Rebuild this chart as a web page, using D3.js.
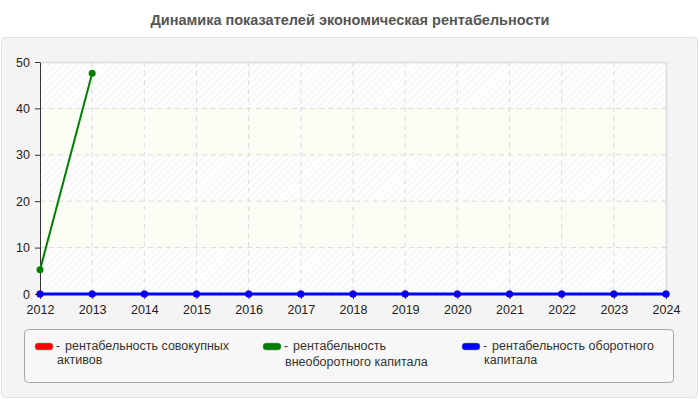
<!DOCTYPE html>
<html>
<head>
<meta charset="utf-8">
<script src="https://cdn.jsdelivr.net/npm/d3@7"></script>
<style>
  body { margin: 0; background: #fff; font-family: "Liberation Sans", Arial, sans-serif; }
  svg { display: block; }
</style>
</head>
<body>
<svg id="chart" width="700" height="400"></svg>
<script>
// данные
const years = [2012, 2013, 2014, 2015, 2016, 2017, 2018, 2019, 2020, 2021, 2022, 2023, 2024];
const totalAssets = [0, 0, 0, 0, 0, 0, 0, 0, 0, 0, 0, 0, 0];
const fixedCapital = [5.2, 47.6, null, null, null, null, null, null, null, null, null, null, null];
const workingCapital = [0, 0, 0, 0, 0, 0, 0, 0, 0, 0, 0, 0, 0];
const yTicks = [0, 10, 20, 30, 40, 50];

const seriesList = [
    { lines: ["рентабельность совокупных", "активов"], values: totalAssets, color: "#ff0000", width: 2, gap: 13.5 },
    { lines: ["рентабельность", "внеоборотного капитала"], values: fixedCapital, color: "#008000", width: 2, gap: 16 },
    { lines: ["рентабельность оборотного", "капитала"], values: workingCapital, color: "#0000ff", width: 3, gap: 13.5 }
];

const m = { left: 40, right: 666, top: 62, bottom: 294 };

const svg = d3.select("#chart");

// title
svg.append("text").attr("x", 350).attr("y", 25).attr("text-anchor", "middle")
    .attr("font-size", 14.5).attr("font-weight", "bold").attr("fill", "#555")
    .text("Динамика показателей экономическая рентабельности");

// outer panel
svg.append("rect").attr("x", 1.5).attr("y", 37.5).attr("width", 696).attr("height", 360)
    .attr("rx", 4).attr("fill", "#f4f4f4").attr("stroke", "#e2e2e2");

const x = d3.scalePoint().domain(years).range([m.left, m.right]);
const y = d3.scaleLinear().domain([0, 50]).range([m.bottom, m.top]);

// hatch pattern
const defs = svg.append("defs");
const pat = defs.append("pattern").attr("id", "hatch").attr("patternUnits", "userSpaceOnUse")
    .attr("width", 5).attr("height", 5).attr("patternTransform", "rotate(45)");
pat.append("rect").attr("width", 5).attr("height", 5).attr("fill", "#ffffff");
pat.append("line").attr("x1", 0).attr("y1", 0).attr("x2", 0).attr("y2", 5)
    .attr("stroke", "#ececec").attr("stroke-width", 1.2);

// bands
const bands = d3.pairs(yTicks);
svg.append("g").selectAll("rect").data(bands).join("rect")
    .attr("x", m.left).attr("width", m.right - m.left)
    .attr("y", d => y(d[1])).attr("height", d => y(d[0]) - y(d[1]))
    .attr("fill", (d, i) => i % 2 === 0 ? "url(#hatch)" : "#fcfdf5");

// grid
const grid = svg.append("g").attr("stroke", "#dcdcdc").attr("stroke-dasharray", "5,4");
grid.selectAll("line.h").data(yTicks.slice(1, -1)).join("line").attr("class", "h")
    .attr("x1", m.left).attr("x2", m.right).attr("y1", d => y(d)).attr("y2", d => y(d));
grid.selectAll("line.v").data(years.slice(1, -1)).join("line").attr("class", "v")
    .attr("y1", m.top).attr("y2", m.bottom).attr("x1", d => x(d)).attr("x2", d => x(d));

// border top/right
svg.append("path").attr("d", `M${m.left},${m.top + 0.5}H${m.right + 0.5}V${m.bottom}`)
    .attr("fill", "none").attr("stroke", "#dcdcdc").attr("stroke-width", 1.5);

// axes
const yAxis = svg.append("g").attr("transform", `translate(${m.left},0)`)
    .call(d3.axisLeft(y).tickValues(yTicks).tickSize(5).tickPadding(5).tickSizeOuter(0));
const xAxis = svg.append("g").attr("transform", `translate(0,${m.bottom})`)
    .call(d3.axisBottom(x).tickSize(5).tickPadding(6).tickSizeOuter(0));
[yAxis, xAxis].forEach(a => {
    a.selectAll("text").attr("font-size", 12.5).attr("fill", "#222")
        .attr("font-family", "'Liberation Sans', Arial, sans-serif");
    a.selectAll("line, path").attr("stroke", "#333");
});

// lines
const line = d3.line().defined(d => d.v !== null).x(d => x(d.year)).y(d => y(d.v));
seriesList.forEach(s => {
    const pts = years.map((yr, i) => ({ year: yr, v: s.values[i] }));
    const g = svg.append("g");
    g.append("path").datum(pts).attr("d", line).attr("fill", "none")
        .attr("stroke", s.color).attr("stroke-width", s.width);
    g.selectAll("circle").data(pts.filter(d => d.v !== null)).join("circle")
        .attr("cx", d => x(d.year)).attr("cy", d => y(d.v)).attr("r", 3.5).attr("fill", s.color);
});

// legend
svg.append("rect").attr("x", 24.5).attr("y", 329.5).attr("width", 649).attr("height", 53)
    .attr("rx", 4).attr("fill", "#f7f7f7").attr("stroke", "#a8a8a8");
const legX = [35, 263, 462];
const leg = svg.append("g").selectAll("g").data(seriesList).join("g")
    .attr("transform", (d, i) => `translate(${legX[i]},343)`);
leg.append("rect").attr("width", 18).attr("height", 7).attr("rx", 3)
    .attr("fill", d => d.color).attr("stroke", "#999").attr("stroke-width", 0.5);
leg.append("text").attr("x", 21).attr("y", 7).attr("font-size", 12).attr("fill", "#333")
    .text("-");
leg.each(function (d) {
    const g = d3.select(this);
    d.lines.forEach((ln, i) => {
        g.append("text").attr("x", i === 0 ? 30 : 22).attr("y", 7 + (i === 0 ? 0 : d.gap))
            .attr("font-size", 12.5).attr("fill", "#333").text(ln);
    });
});
</script>
</body>
</html>
